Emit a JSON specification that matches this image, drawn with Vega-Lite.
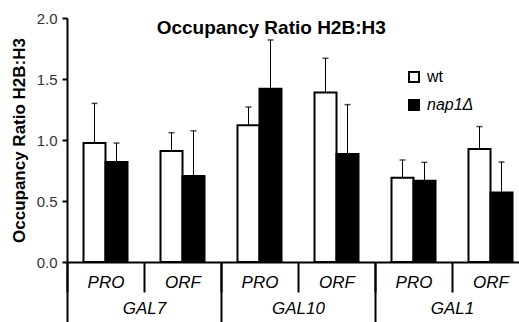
{
  "$schema": "https://vega.github.io/schema/vega-lite/v6.json",
  "width": 462,
  "height": 244,
  "autosize": {"type": "none"},
  "padding": {"left": 67, "top": 18, "right": 0, "bottom": 60},
  "background": "white",
  "config": {
    "font": "Liberation Sans",
    "view": {"stroke": null},
    "axis": {"grid": false}
  },
  "data": {
    "values": [
      {"gene": "GAL7", "cat": "GAL7 PRO", "strain": "wt", "value": 0.975, "upper": 1.30},
      {"gene": "GAL7", "cat": "GAL7 PRO", "strain": "nap1Δ", "value": 0.82, "upper": 0.975},
      {"gene": "GAL7", "cat": "GAL7 ORF", "strain": "wt", "value": 0.91, "upper": 1.06},
      {"gene": "GAL7", "cat": "GAL7 ORF", "strain": "nap1Δ", "value": 0.705, "upper": 1.075},
      {"gene": "GAL10", "cat": "GAL10 PRO", "strain": "wt", "value": 1.12, "upper": 1.27},
      {"gene": "GAL10", "cat": "GAL10 PRO", "strain": "nap1Δ", "value": 1.42, "upper": 1.82},
      {"gene": "GAL10", "cat": "GAL10 ORF", "strain": "wt", "value": 1.39, "upper": 1.67},
      {"gene": "GAL10", "cat": "GAL10 ORF", "strain": "nap1Δ", "value": 0.885, "upper": 1.29},
      {"gene": "GAL1", "cat": "GAL1 PRO", "strain": "wt", "value": 0.69, "upper": 0.836},
      {"gene": "GAL1", "cat": "GAL1 PRO", "strain": "nap1Δ", "value": 0.665, "upper": 0.817},
      {"gene": "GAL1", "cat": "GAL1 ORF", "strain": "wt", "value": 0.926, "upper": 1.11},
      {"gene": "GAL1", "cat": "GAL1 ORF", "strain": "nap1Δ", "value": 0.57, "upper": 0.82}
    ]
  },
  "layer": [
    {
      "encoding": {
        "x": {
          "field": "cat",
          "type": "nominal",
          "sort": ["GAL7 PRO", "GAL7 ORF", "GAL10 PRO", "GAL10 ORF", "GAL1 PRO", "GAL1 ORF"],
          "scale": {"paddingInner": 0, "paddingOuter": 0},
          "axis": {
            "orient": "bottom",
            "title": null,
            "labelAngle": 0,
            "labelExpr": "split(datum.value, ' ')[1]",
            "labelFont": "Liberation Sans",
            "labelFontSize": 17,
            "labelFontStyle": "italic",
            "labelColor": "black",
            "labelBaseline": "top",
            "tickBand": "extent",
            "tickSize": 30,
            "tickWidth": 2,
            "tickColor": "black",
            "labelPadding": -18,
            "domainColor": "black",
            "domainWidth": 2
          }
        },
        "xOffset": {
          "field": "strain",
          "type": "nominal",
          "sort": ["wt", "nap1Δ"],
          "scale": {"paddingInner": 0, "paddingOuter": 0.75}
        }
      },
      "layer": [
        {
          "mark": {"type": "bar", "stroke": "black", "strokeWidth": 2},
          "encoding": {
            "y": {
              "field": "value",
              "type": "quantitative",
              "scale": {"domain": [0, 2]},
              "axis": {
                "title": "Occupancy Ratio H2B:H3",
                "titleFont": "Liberation Sans",
                "titleFontSize": 17,
                "titleFontWeight": "bold",
                "titleColor": "black",
                "titlePadding": 8,
                "values": [0, 0.5, 1, 1.5, 2],
                "format": ".1f",
                "labelFont": "Liberation Sans",
                "labelFontSize": 15,
                "labelColor": "#333",
                "labelPadding": 5,
                "tickSize": 5,
                "tickWidth": 2,
                "tickColor": "black",
                "domainColor": "black",
                "domainWidth": 2
              }
            },
            "fill": {
              "field": "strain",
              "type": "nominal",
              "sort": ["wt", "nap1Δ"],
              "scale": {"range": ["white", "black"]},
              "legend": {
                "title": null,
                "orient": "none",
                "legendX": 339,
                "legendY": 51,
                "padding": 0,
                "symbolType": "square",
                "symbolSize": 100,
                "symbolStrokeColor": "black",
                "symbolStrokeWidth": 2,
                "labelFont": "Liberation Sans",
                "labelFontSize": 16,
                "labelColor": "black",
                "labelOffset": 5,
                "rowPadding": 10,
                "encode": {
                  "labels": {
                    "update": {
                      "fontStyle": {"signal": "datum.value === 'nap1Δ' ? 'italic' : 'normal'"}
                    }
                  }
                }
              }
            }
          }
        },
        {
          "mark": {"type": "rule", "color": "black", "strokeWidth": 1},
          "encoding": {
            "y": {"field": "value", "type": "quantitative"},
            "y2": {"field": "upper"}
          }
        },
        {
          "mark": {"type": "tick", "color": "black", "thickness": 1.5, "size": 6, "orient": "horizontal"},
          "encoding": {
            "y": {"field": "upper", "type": "quantitative"}
          }
        }
      ]
    },
    {
      "mark": {"type": "point", "opacity": 0},
      "encoding": {
        "x": {
          "field": "gene",
          "type": "nominal",
          "sort": ["GAL7", "GAL10", "GAL1"],
          "scale": {"type": "band", "paddingInner": 0, "paddingOuter": 0},
          "axis": {
            "orient": "bottom",
            "title": null,
            "labelAngle": 0,
            "labelFont": "Liberation Sans",
            "labelFontSize": 17,
            "labelFontStyle": "italic",
            "labelColor": "black",
            "labelBaseline": "top",
            "tickBand": "extent",
            "tickSize": 62,
            "tickWidth": 2,
            "tickColor": "black",
            "labelPadding": -24,
            "domain": false
          }
        },
        "y": {"field": "value", "type": "quantitative"}
      }
    },
    {
      "data": {"values": [{"t": "Occupancy Ratio H2B:H3"}]},
      "mark": {
        "type": "text",
        "font": "Liberation Sans",
        "fontSize": 19,
        "fontWeight": "bold",
        "color": "black",
        "align": "center",
        "baseline": "middle"
      },
      "encoding": {
        "text": {"field": "t"},
        "x": {
          "datum": "title",
          "type": "nominal",
          "bandPosition": 0.442,
          "scale": {"type": "band", "paddingInner": 0, "paddingOuter": 0},
          "axis": null
        },
        "y": {"datum": 1.92, "type": "quantitative"}
      }
    }
  ],
  "resolve": {"scale": {"x": "independent"}}
}
